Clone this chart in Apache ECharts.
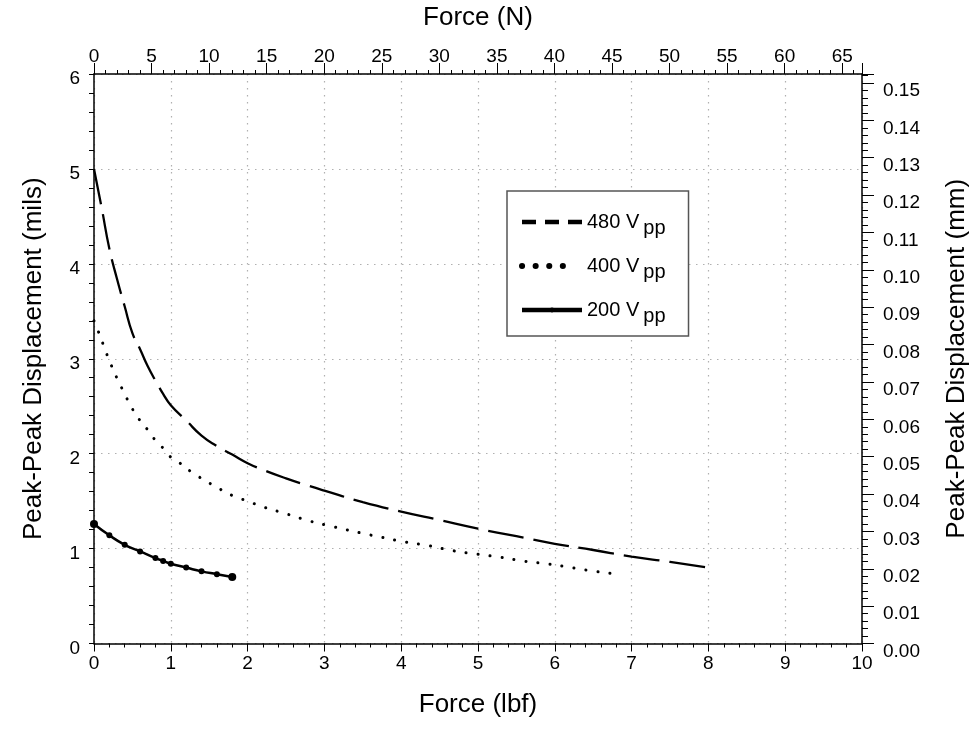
<!DOCTYPE html>
<html lang="en">
<head>
    <meta charset="UTF-8">
    <title>Peak-Peak Displacement vs Force</title>
    <style>
        body { margin: 0; background: #fff; }
        #main { width: 978px; height: 749px; }
    </style>
</head>
<body>
<div id="main"></div>

<script src="https://cdn.jsdelivr.net/npm/echarts@6/dist/echarts.min.js"></script>
<script>
    // values (force in lbf, displacement in mils)
    var force480 = [0, 0.1, 0.2, 0.3, 0.4, 0.5, 0.6, 0.7, 0.8, 0.9, 1.0, 1.2, 1.4, 1.6, 1.8, 2.0, 2.2, 2.5, 2.8, 3.0, 3.5, 4.0, 4.5, 5.0, 5.5, 6.0, 6.5, 7.0, 7.5, 8.0];
    var disp480 = [5.0, 4.59, 4.16, 3.84, 3.55, 3.27, 3.10, 2.92, 2.77, 2.63, 2.51, 2.35, 2.19, 2.08, 1.99, 1.90, 1.83, 1.74, 1.66, 1.61, 1.49, 1.39, 1.30, 1.21, 1.13, 1.05, 0.985, 0.915, 0.86, 0.80];

    var force400 = [0, 0.06, 0.12, 0.21, 0.32, 0.40, 0.48, 0.59, 0.71, 0.80, 0.91, 0.99, 1.12, 1.28, 1.42, 1.59, 1.80, 2.0, 2.2, 2.49, 2.81, 3.12, 3.50, 3.74, 4.05, 4.36, 4.66, 5.0, 5.28, 5.58, 5.89, 6.21, 6.35, 6.82];
    var disp400 = [3.40, 3.28, 3.15, 2.96, 2.76, 2.63, 2.50, 2.36, 2.24, 2.14, 2.05, 1.97, 1.90, 1.80, 1.73, 1.65, 1.56, 1.50, 1.44, 1.37, 1.29, 1.23, 1.16, 1.12, 1.07, 1.03, 0.98, 0.94, 0.91, 0.87, 0.84, 0.80, 0.78, 0.73];

    var force200 = [0, 0.2, 0.4, 0.6, 0.8, 0.9, 1.0, 1.2, 1.4, 1.6, 1.8];
    var disp200 = [1.26, 1.14, 1.04, 0.97, 0.90, 0.87, 0.84, 0.80, 0.76, 0.73, 0.70];

    var seriesNames = ['480 V', '400 V', '200 V'];

    // axis ranges
    var lbfMax = 10;
    var newtonMax = 66.72;
    var milsMax = 6;
    var mmMax = 0.1524;

    function pairs(xs, ys) {
        return xs.map(function (x, i) { return [x, ys[i]]; });
    }

    var font = 'Liberation Sans, Arial, sans-serif';
    var gridLine = { show: true, lineStyle: { color: '#b0b0b0', width: 1.2, type: [1.5, 5.5] } };
    var blackLine = { show: true, onZero: false, lineStyle: { color: '#000', width: 1.5 } };
    var noSymbol = { color: 'rgba(0,0,0,0)', borderWidth: 0, opacity: 0 };

    var chartDom = document.getElementById('main');
    var myChart = echarts.init(chartDom);
    var option;

    option = {
        backgroundColor: '#fff',
        animation: false,
        textStyle: { fontFamily: font, color: '#000' },
        grid: { left: 94, right: 110, top: 73, bottom: 105.5 },
        legend: {
            orient: 'vertical',
            left: 507,
            top: 191,
            padding: [21, 23, 10, 12],
            itemGap: 18,
            itemWidth: 60,
            itemHeight: 6,
            borderColor: '#555',
            borderWidth: 1.5,
            backgroundColor: '#fff',
            formatter: function (name) { return '{a|' + name + '}{b|pp}'; },
            textStyle: {
                rich: {
                    a: { fontSize: 20, fontFamily: font, color: '#000' },
                    b: { fontSize: 20, fontFamily: font, color: '#000', padding: [12, 0, 0, 4] }
                }
            },
            data: [
                { name: seriesNames[0], lineStyle: { width: 4.5, type: [14, 9] }, itemStyle: noSymbol },
                { name: seriesNames[1], lineStyle: { width: 6, type: [0.1, 13.5, 0.1, 13.5, 0.1, 13.5, 0.1, 40], cap: 'round' }, itemStyle: noSymbol },
                { name: seriesNames[2], lineStyle: { width: 4.5 } }
            ]
        },
        xAxis: [
            {
                type: 'value',
                position: 'bottom',
                min: 0,
                max: lbfMax,
                interval: 1,
                name: 'Force (lbf)',
                nameLocation: 'middle',
                nameGap: 48,
                nameTextStyle: { fontSize: 26, color: '#000' },
                axisLine: { show: true, onZero: false, lineStyle: { color: '#000', width: 1.5 } },
                axisTick: { show: true, length: 8, lineStyle: { color: '#000' } },
                minorTick: { show: true, splitNumber: 5, length: 4, lineStyle: { color: '#000' } },
                axisLabel: { fontSize: 19, color: '#000', margin: 11 },
                splitLine: gridLine
            },
            {
                type: 'value',
                position: 'top',
                min: 0,
                max: newtonMax,
                interval: 5,
                name: 'Force (N)',
                nameLocation: 'middle',
                nameGap: 43,
                nameTextStyle: { fontSize: 26, color: '#000' },
                axisLine: { show: true, onZero: false, lineStyle: { color: '#000', width: 1.5 } },
                axisTick: { show: true, length: 11, lineStyle: { color: '#000' } },
                minorTick: { show: true, splitNumber: 5, length: 4, lineStyle: { color: '#000' } },
                axisLabel: {
                    fontSize: 19, color: '#000', margin: 8,
                    formatter: function (v) { return v % 5 === 0 ? String(v) : ''; }
                },
                splitLine: { show: false }
            }
        ],
        yAxis: [
            {
                type: 'value',
                position: 'left',
                min: 0,
                max: milsMax,
                interval: 1,
                name: 'Peak-Peak Displacement (mils)',
                nameLocation: 'middle',
                nameGap: 47,
                nameTextStyle: { fontSize: 26, color: '#000' },
                axisLine: blackLine,
                axisTick: { show: true, length: 5, lineStyle: { color: '#000' } },
                minorTick: { show: true, splitNumber: 5, length: 5, lineStyle: { color: '#000' } },
                axisLabel: { fontSize: 19, color: '#000', margin: 14, verticalAlign: 'top', lineHeight: 10 },
                splitLine: gridLine
            },
            {
                type: 'value',
                position: 'right',
                min: 0,
                max: mmMax,
                interval: 0.01,
                name: 'Peak-Peak Displacement (mm)',
                nameLocation: 'middle',
                nameGap: 82,
                nameRotate: 90,
                nameTextStyle: { fontSize: 26, color: '#000' },
                axisLine: blackLine,
                axisTick: { show: true, length: 12, lineStyle: { color: '#000' } },
                minorTick: { show: true, splitNumber: 5, length: 6, lineStyle: { color: '#000' } },
                axisLabel: {
                    fontSize: 19, color: '#000', margin: 21, verticalAlign: 'top', lineHeight: 16,
                    formatter: function (v) {
                        var k = v * 100;
                        return Math.abs(k - Math.round(k)) < 1e-6 ? v.toFixed(2) : '';
                    }
                },
                splitLine: { show: false }
            }
        ],
        series: [
            {
                name: seriesNames[0],
                type: 'line',
                xAxisIndex: 0,
                yAxisIndex: 0,
                data: pairs(force480, disp480),
                smooth: true,
                symbol: 'none',
                lineStyle: { color: '#000', width: 2.3, type: [36, 10] },
                itemStyle: { color: '#000' }
            },
            {
                name: seriesNames[1],
                type: 'line',
                xAxisIndex: 0,
                yAxisIndex: 0,
                data: pairs(force400, disp400),
                smooth: true,
                symbol: 'none',
                lineStyle: { color: '#000', width: 3, type: [0.1, 12], cap: 'round' },
                itemStyle: { color: '#000' }
            },
            {
                name: seriesNames[2],
                type: 'line',
                xAxisIndex: 0,
                yAxisIndex: 0,
                data: pairs(force200, disp200),
                smooth: true,
                symbol: 'circle',
                symbolSize: function (v, p) {
                    return (p.dataIndex === 0 || p.dataIndex === force200.length - 1) ? 8 : 6;
                },
                lineStyle: { color: '#000', width: 2.5 },
                itemStyle: { color: '#000' }
            }
        ]
    };

    option && myChart.setOption(option);
</script>
</body>
</html>
